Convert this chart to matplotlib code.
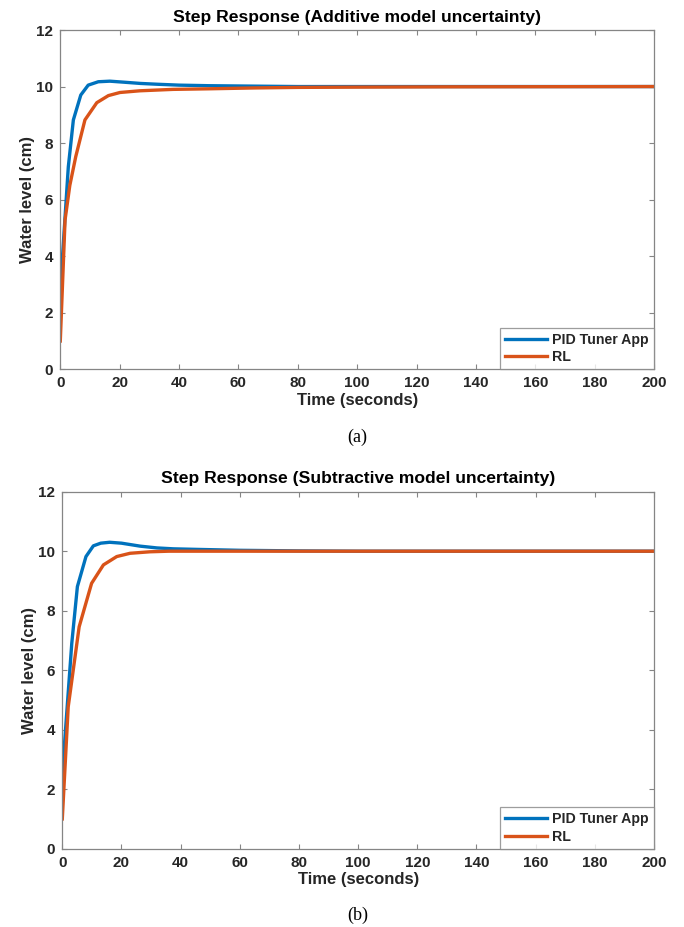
import matplotlib
matplotlib.use("Agg")
import matplotlib.pyplot as plt

plt.rcParams["font.family"] = ["Liberation Sans", "DejaVu Sans"]

# additive model uncertainty
t_add_pid = [0, 2.7, 4.4, 6.9, 9.4, 12.8, 16.7, 22, 27, 33, 40, 50, 60, 80, 100, 200]
y_add_pid = [2.8, 7.16, 8.82, 9.70, 10.05, 10.17, 10.19, 10.15, 10.11, 10.08, 10.05,
             10.03, 10.02, 10.0, 10.0, 10.0]
t_add_rl = [0, 1.6, 3.2, 5.2, 8.3, 12.3, 16.2, 20.1, 26.8, 38, 50, 65, 80, 100, 130, 200]
y_add_rl = [1.0, 5.28, 6.5, 7.52, 8.82, 9.43, 9.68, 9.79, 9.85, 9.90, 9.92, 9.95,
            9.97, 9.98, 9.99, 10.0]

# subtractive model uncertainty
t_sub_pid = [0, 3.2, 5.1, 8.0, 10.5, 13, 16, 20, 26.3, 32, 37.5, 46, 60, 80, 100, 200]
y_sub_pid = [2.5, 6.9, 8.81, 9.82, 10.18, 10.27, 10.3, 10.27, 10.17, 10.11, 10.08,
             10.06, 10.03, 10.01, 10.0, 10.0]
t_sub_rl = [0, 2.0, 5.7, 9.9, 13.9, 18.4, 22.9, 29.6, 36, 50, 200]
y_sub_rl = [1.0, 4.77, 7.46, 8.92, 9.54, 9.82, 9.93, 9.98, 10.0, 10.0, 10.0]

titles = ["Step Response (Additive model uncertainty)",
          "Step Response (Subtractive model uncertainty)"]
captions = ["(a)", "(b)"]
series_labels = ["PID Tuner App", "RL"]

BLUE = "#0072BD"
ORANGE = "#D95319"
AX_GRAY = "#858585"
TXT = "#262626"

W, H = 684, 927
fig = plt.figure(figsize=(W / 100, H / 100), dpi=100)

# axes boxes in pixels: left, top, right, bottom
boxes = [(60.3, 30.0, 654.0, 369.3), (62.3, 491.7, 654.0, 848.7)]
caption_y = [437, 915]
data = [(t_add_pid, y_add_pid, t_add_rl, y_add_rl),
        (t_sub_pid, y_sub_pid, t_sub_rl, y_sub_rl)]

for i, (l, t, r, b) in enumerate(boxes):
    ax = fig.add_axes([l / W, 1 - b / H, (r - l) / W, (b - t) / H])
    tp, yp, tr, yr = data[i]
    ax.plot(tp, yp, color=BLUE, lw=2.4, label=series_labels[0])
    ax.plot(tr, yr, color=ORANGE, lw=2.4, label=series_labels[1])

    ax.set_xlim(0, 200)
    ax.set_ylim(0, 12)
    ax.set_xticks(range(0, 201, 20))
    ax.set_yticks(range(0, 13, 2))
    ax.tick_params(direction="in", length=3.5, width=0.8, color=AX_GRAY,
                   labelsize=11, labelcolor=TXT, top=True, right=True, pad=5)
    for lab in ax.get_xticklabels() + ax.get_yticklabels():
        lab.set_fontweight("bold")
    for sp in ax.spines.values():
        sp.set_color(AX_GRAY)
        sp.set_linewidth(0.9)

    ax.set_title(titles[i], fontsize=12.6, fontweight="bold", color="black", pad=6)
    ax.set_xlabel("Time (seconds)", fontsize=12, fontweight="bold", color=TXT, labelpad=2)
    ax.set_ylabel("Water level (cm)", fontsize=12, fontweight="bold", color=TXT, labelpad=1)

    leg = ax.legend(loc="lower right", borderaxespad=0, fancybox=False,
                    prop={"weight": "bold", "size": 10.2}, handlelength=3.0,
                    handletextpad=0.35, labelspacing=0.25, borderpad=0.35)
    leg.get_frame().set_edgecolor(AX_GRAY)
    leg.get_frame().set_linewidth(0.9)
    for txt in leg.get_texts():
        txt.set_color(TXT)

    fig.text((l + r) / 2 / W, 1 - caption_y[i] / H, captions[i], ha="center",
             va="center", fontsize=13, family="Liberation Serif")

fig.savefig("out.png", dpi=100)
